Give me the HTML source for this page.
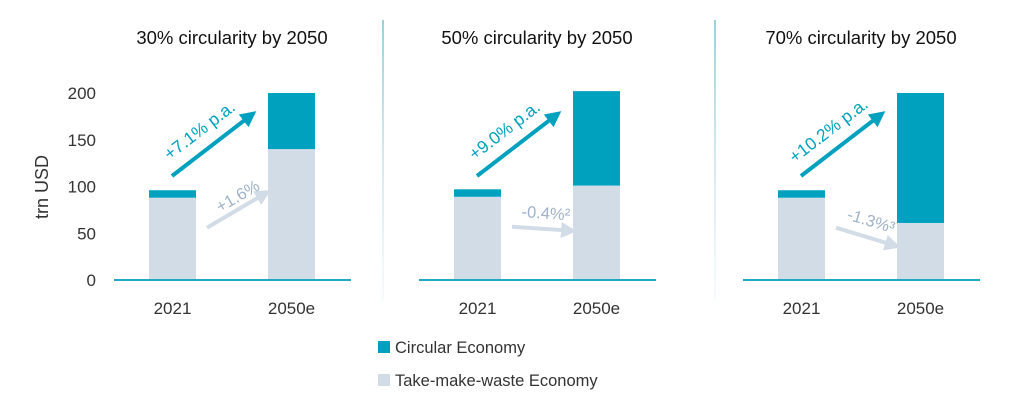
<!DOCTYPE html>
<html><head><meta charset="utf-8"><style>
body{margin:0;background:#fff;}
svg text{font-family:"Liberation Sans",sans-serif;}
</style></head><body>
<svg width="1024" height="408" viewBox="0 0 1024 408">
<defs>
<linearGradient id="dv" x1="0" y1="0" x2="0" y2="1">
<stop offset="0" stop-color="#8fcbd8" stop-opacity="0.9"/><stop offset="1" stop-color="#cde6ee" stop-opacity="0.2"/>
</linearGradient>
<marker id="ah" markerWidth="4" markerHeight="4" refX="2" refY="2" orient="auto" markerUnits="strokeWidth"><path d="M0,0L4,2L0,4z" fill="#00a1bf"/></marker>
<marker id="ahg" markerWidth="4" markerHeight="4" refX="2" refY="2" orient="auto" markerUnits="strokeWidth"><path d="M0,0L4,2L0,4z" fill="#d2dce6"/></marker>
</defs>
<rect x="382" y="20" width="2" height="280" fill="url(#dv)"/>
<rect x="714" y="20" width="2" height="280" fill="url(#dv)"/>
<g id="root"></g>
<g>
<rect x="378" y="341" width="12" height="12" fill="#00a1bf"/>
<text x="395" y="353" font-size="16.5" fill="#333">Circular Economy</text>
<rect x="378" y="374" width="12" height="12" fill="#d2dce6"/>
<text x="395" y="386" font-size="16.5" fill="#333">Take-make-waste Economy</text>
</g>
</svg>
<script>
const categories = ["2021", "2050e"];
const titles = ["30% circularity by 2050", "50% circularity by 2050", "70% circularity by 2050"];
const takeMakeValues = [[88, 140], [89, 101], [88, 61]];
const circularValues = [[8, 60], [8, 101], [8, 139]];
const growthCircular = ["+7.1% p.a.", "+9.0% p.a.", "+10.2% p.a."];
const growthTakeMake = ["+1.6%", "-0.4%²", "-1.3%³"];
const yTicks = [0, 50, 100, 150, 200];

const NS = "http://www.w3.org/2000/svg";
const root = document.getElementById("root");
const y0 = 280, pxPer = 0.935;
const yScale = v => y0 - v * pxPer;
const panelX = [114, 419, 743];
const barW = 47, barOff = [35, 154];
function mk(tag, attrs, parent) {
  const e = document.createElementNS(NS, tag);
  for (const k in attrs) e.setAttribute(k, attrs[k]);
  (parent || root).appendChild(e);
  return e;
}
const ya = mk("g", {});


yTicks.forEach(t => {
  const tx = mk("text", {x: 96, y: yScale(t) + 6, "font-size": 17, fill: "#333", "text-anchor": "end"}, ya);
  tx.textContent = t;
  
  
});
const yt = mk("text", {x: 0, y: 0, "font-size": 18, fill: "#333", "text-anchor": "middle", transform: "translate(48,187) rotate(-90)"}, ya);
yt.textContent = "trn USD";



titles.forEach((title, p) => {
  const g = mk("g", {});
  
  
  const px = panelX[p];
  const t = mk("text", {x: px + 118, y: 44, "font-size": 18.5, fill: "#111", "text-anchor": "middle"}, g);
  t.textContent = title;
  
  
  const tops = [];
  categories.forEach((c, i) => {
    const bx = px + barOff[i];
    const tm = takeMakeValues[p][i], ci = circularValues[p][i];
    const r1 = mk("rect", {x: bx, y: yScale(tm), width: barW, height: tm * pxPer, fill: "#d2dce6"}, g);
    
    
    const r2 = mk("rect", {x: bx, y: yScale(tm + ci), width: barW, height: ci * pxPer, fill: "#00a1bf"}, g);
    
    
    tops.push([yScale(tm + ci), yScale(tm)]);
    const xl = mk("text", {x: bx + barW / 2, y: 314, "font-size": 17, fill: "#333", "text-anchor": "middle"}, g);
    xl.textContent = c;
    
    
  });
  const ax = mk("line", {x1: px, x2: px + 237, y1: y0, y2: y0, stroke: "#22a9c2", "stroke-width": 2}, g);
  
  
  const x1 = px + 58, y1 = 176, x2 = px + 136, y2 = 116;
  const a = mk("line", {x1: x1, y1: y1, x2: x2, y2: y2, stroke: "#00a1bf", "stroke-width": 4, "marker-end": "url(#ah)"}, g);
  
  
  const ang = Math.atan2(y2 - y1, x2 - x1) * 180 / Math.PI;
  const lt = mk("text", {x: 0, y: 0, "font-size": 17.5, fill: "#00a1bf", "text-anchor": "middle", transform: `translate(${(x1 + x2) / 2 - 8},${(y1 + y2) / 2 - 11}) rotate(${ang})`}, g);
  lt.textContent = growthCircular[p];
  
  
  const gx1 = px + 93, gy1 = tops[0][1] + 30, gx2 = px + 150;
  const gy2 = Math.min(tops[1][1] + 45, 245);
  const ga = mk("line", {x1: gx1, y1: gy1, x2: gx2, y2: gy2, stroke: "#d2dce6", "stroke-width": 4, "marker-end": "url(#ahg)"}, g);
  
  
  const gang = Math.atan2(gy2 - gy1, gx2 - gx1) * 180 / Math.PI;
  const gl = mk("text", {x: 0, y: 0, "font-size": 16.5, fill: "#9fb2c8", "text-anchor": "middle", transform: `translate(${(gx1 + gx2) / 2 + 5},${(gy1 + gy2) / 2 - 10}) rotate(${gang})`}, g);
  gl.textContent = growthTakeMake[p];
  
  
});
</script>
</body></html>
